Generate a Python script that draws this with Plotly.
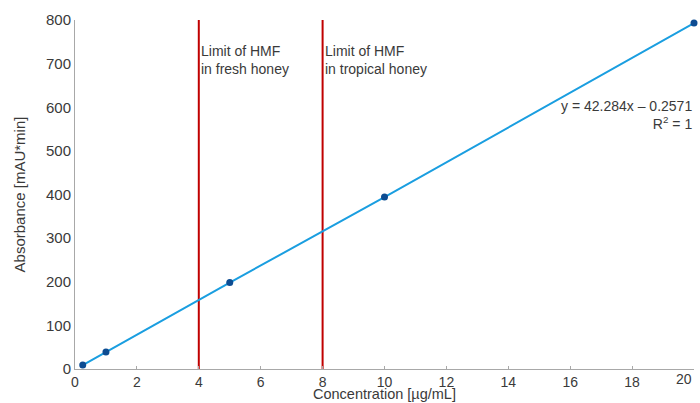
import plotly.graph_objects as go

conc = [0.25, 1, 5, 10, 20]
absorb = [9, 39, 198, 394, 793]
limits = [4, 8]
limit_labels = ["Limit of HMF<br>in fresh honey", "Limit of HMF<br>in tropical honey"]
x_ticks = list(range(0, 21, 2))
x_ticktext = [str(v) for v in x_ticks[:-1]] + [""]
y_ticks = list(range(0, 801, 100))
x_title = "Concentration [µg/mL]"
y_title = "Absorbance [mAU*min]"

font_family = "Liberation Sans, Arial, sans-serif"
text_color = "#3a3a3a"

fig = go.Figure()
for xv in limits:
    fig.add_trace(go.Scatter(x=[xv, xv], y=[0, 800], mode="lines",
                             line=dict(color="#c00000", width=2),
                             showlegend=False, hoverinfo="skip"))
fig.add_trace(go.Scatter(x=conc, y=absorb, mode="lines+markers",
                         line=dict(color="#1a9ee0", width=2),
                         marker=dict(color="#0d4c92", size=7),
                         cliponaxis=False, showlegend=False))

for xv, lab in zip(limits, limit_labels):
    fig.add_annotation(x=xv, y=708, text=lab, showarrow=False, xanchor="left",
                       xshift=0, align="left",
                       font=dict(size=14, color=text_color, family=font_family))

fig.add_annotation(x=20, y=583, text="y = 42.284x – 0.2571<br>R<sup>2</sup> = 1",
                   showarrow=False, xanchor="right", align="right",
                   font=dict(size=14, color=text_color, family=font_family))

# last x tick label, kept inside the page as in the reference
fig.add_annotation(x=x_ticks[-1], y=0, yref="paper", text=str(x_ticks[-1]),
                   showarrow=False, xanchor="right", yanchor="top",
                   xshift=0, yshift=0,
                   font=dict(size=14, color=text_color, family=font_family))

# x axis title placed just under the tick labels
fig.add_annotation(x=0.5, xref="paper", y=0, yref="paper", text=x_title,
                   showarrow=False, xanchor="center", yanchor="top", yshift=-15,
                   font=dict(size=14.5, color=text_color, family=font_family))

fig.update_layout(
    width=700, height=403,
    margin=dict(l=75, r=6, t=20, b=34),
    paper_bgcolor="white", plot_bgcolor="white",
    font=dict(family=font_family, color=text_color, size=15),
    xaxis=dict(range=[0, 20], tickvals=x_ticks, ticktext=x_ticktext,
               automargin=False,
               showgrid=False, zeroline=False,
               showline=True, linecolor="#a8a8a8", linewidth=1,
               ticks="inside", ticklen=3, tickcolor="#a8a8a8",
               tickfont=dict(size=14)),
    yaxis=dict(range=[0, 800], tickvals=y_ticks, showgrid=False, zeroline=False,
               automargin=False,
               showline=True, linecolor="#a8a8a8", linewidth=1,
               ticks="", title=dict(text=y_title, standoff=16,
                                    font=dict(size=15)),
               tickfont=dict(size=15)),
)

fig.write_html("out.html", config={"displayModeBar": False},
               post_script="document.body.style.margin='0';document.body.style.overflow='hidden';")
